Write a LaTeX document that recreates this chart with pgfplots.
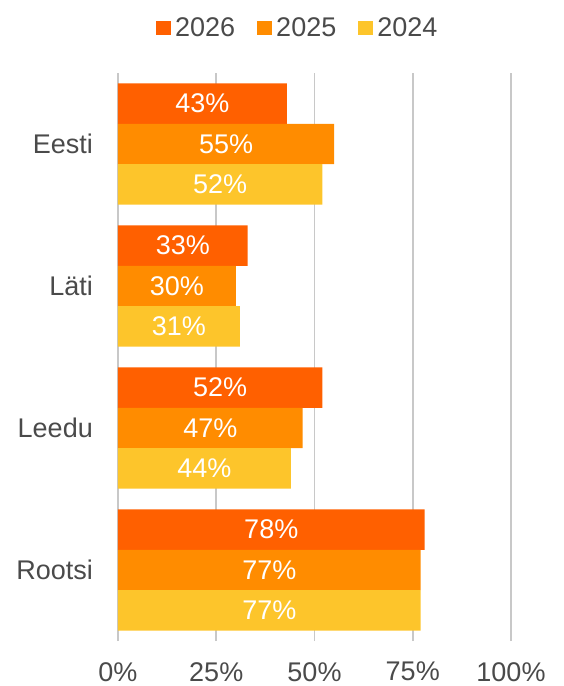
\documentclass[border=0pt]{standalone}
\usepackage{fontspec}
\setmainfont{Liberation Sans}
\usepackage{pgfplots}
\pgfplotsset{compat=1.18}
\definecolor{cA}{HTML}{FF6000}
\definecolor{cB}{HTML}{FF8C00}
\definecolor{cC}{HTML}{FDC52B}
\definecolor{txt}{HTML}{4A4A4A}
\definecolor{grd}{HTML}{C8C8C8}
\begin{document}
\begin{tikzpicture}
\useasboundingbox (-118pt,-45pt) rectangle (445pt,641pt);
\begin{axis}[
  at={(0pt,0pt)}, anchor=south west, scale only axis,
  width=393pt, height=568pt,
  xmin=0, xmax=100, ymin=-0.5, ymax=3.5,
  xbar, bar width=0.285,
  /pgf/number format/assume math mode=true,
  axis line style={draw=none}, major tick length=0pt,
  xmajorgrids, grid style={grd, line width=1.5pt},
  xtick={0,25,50,75,100},
  xticklabels={0\%,25\%,50\%,75\%,100\%},
  ytick={0,1,2,3},
  yticklabels={Rootsi,Leedu,Läti,Eesti},
  tick label style={font=\fontsize{27}{32}\selectfont, text=txt},
  xticklabel style={anchor=north, inner sep=0pt, yshift=-21pt},
  yticklabel style={anchor=east, inner sep=0pt, xshift=-25pt},
  point meta=x,
  nodes near coords={\pgfmathprintnumber{\pgfplotspointmeta}\%},
  nodes near coords align={center},
  visualization depends on={rawx \as \rawx},
  every node near coord/.append style={anchor=center, text=white,
     font=\fontsize{27}{32}\selectfont, xshift={-\rawx*1.965pt}},
  legend style={at={(0.46,1.079)}, anchor=center, draw=none, fill=none,
     legend columns=3, font=\fontsize{27}{32}\selectfont, text=txt,
     /tikz/every even column/.append style={column sep=18pt},
     nodes={inner xsep=4pt}},
  legend image code/.code={\fill[#1] (0pt,-7pt) rectangle (15pt,7pt);},
]
\addplot[fill=cA, draw=none, bar shift=0.285] coordinates {(43,3) (33,2) (52,1) (78,0)};
\addplot[fill=cB, draw=none, bar shift=0] coordinates {(55,3) (30,2) (47,1) (77,0)};
\addplot[fill=cC, draw=none, bar shift=-0.285] coordinates {(52,3) (31,2) (44,1) (77,0)};
\legend{2026,2025,2024}
\end{axis}
\end{tikzpicture}
\end{document}
